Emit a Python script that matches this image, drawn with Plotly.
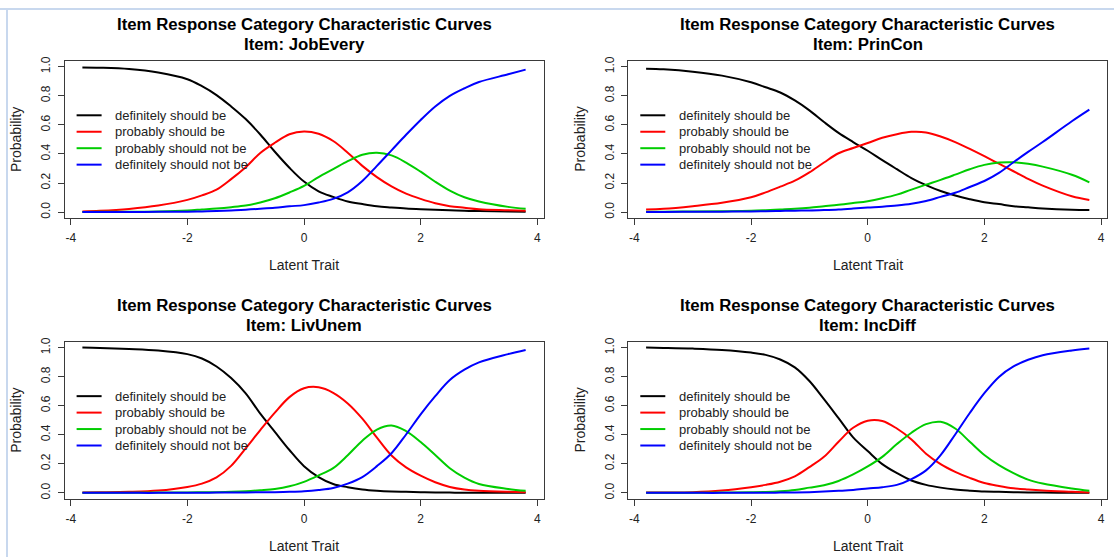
import plotly.graph_objects as go

# Latent trait grid at which the category probabilities are listed
theta = [-3.8, -3.5, -3.0, -2.5, -2.0, -1.75, -1.5, -1.25, -1.0, -0.75, -0.5, -0.25,
         0.0, 0.25, 0.5, 0.75, 1.0, 1.25, 1.5, 1.75, 2.0, 2.25, 2.5, 2.75, 3.0, 3.5, 3.8]

categories = ["definitely should be", "probably should be",
              "probably should not be", "definitely should not be"]
cat_colors = ["#000000", "#FF0000", "#00CD00", "#0000FF"]

items = ["JobEvery", "PrinCon", "LivUnem", "IncDiff"]

# JobEvery
job_def_be = [0.995, 0.993, 0.984, 0.960, 0.914, 0.866, 0.805, 0.727, 0.640, 0.534, 0.415, 0.305,
              0.210, 0.143, 0.105, 0.073, 0.055, 0.040, 0.032, 0.025, 0.020, 0.016, 0.013, 0.009,
              0.007, 0.005, 0.003]
job_prob_be = [0.005, 0.009, 0.022, 0.045, 0.084, 0.115, 0.155, 0.227, 0.309, 0.407, 0.477, 0.536,
               0.555, 0.539, 0.489, 0.409, 0.318, 0.241, 0.177, 0.127, 0.091, 0.061, 0.041, 0.030,
               0.020, 0.013, 0.009]
job_prob_not = [0.001, 0.002, 0.003, 0.005, 0.011, 0.018, 0.025, 0.034, 0.045, 0.066, 0.095, 0.135,
                0.180, 0.241, 0.295, 0.350, 0.395, 0.409, 0.390, 0.341, 0.278, 0.209, 0.148, 0.102,
                0.073, 0.036, 0.023]
job_def_not = [0.000, 0.000, 0.001, 0.002, 0.003, 0.005, 0.007, 0.011, 0.017, 0.023, 0.030, 0.040,
               0.048, 0.066, 0.091, 0.136, 0.214, 0.318, 0.425, 0.532, 0.634, 0.727, 0.800, 0.852,
               0.895, 0.948, 0.980]

# PrinCon
prin_def_be = [0.986, 0.982, 0.966, 0.939, 0.893, 0.859, 0.823, 0.768, 0.700, 0.620, 0.545, 0.482,
               0.422, 0.357, 0.295, 0.234, 0.186, 0.145, 0.114, 0.089, 0.068, 0.055, 0.041, 0.033,
               0.025, 0.016, 0.014]
prin_prob_be = [0.018, 0.023, 0.041, 0.064, 0.102, 0.136, 0.175, 0.216, 0.273, 0.341, 0.405, 0.441,
                0.475, 0.511, 0.536, 0.552, 0.548, 0.520, 0.482, 0.435, 0.385, 0.333, 0.281, 0.228,
                0.182, 0.109, 0.084]
prin_prob_not = [0.002, 0.003, 0.004, 0.006, 0.009, 0.013, 0.018, 0.023, 0.030, 0.040, 0.050, 0.062,
                 0.075, 0.095, 0.120, 0.155, 0.189, 0.222, 0.258, 0.295, 0.325, 0.341, 0.343, 0.332,
                 0.313, 0.257, 0.205]
prin_def_not = [0.000, 0.001, 0.002, 0.003, 0.005, 0.006, 0.008, 0.010, 0.011, 0.014, 0.018, 0.024,
                0.031, 0.037, 0.045, 0.057, 0.077, 0.105, 0.133, 0.173, 0.214, 0.270, 0.343, 0.414,
                0.482, 0.625, 0.705]

# LivUnem
liv_def_be = [1.000, 0.998, 0.991, 0.980, 0.955, 0.925, 0.870, 0.790, 0.685, 0.545, 0.420, 0.295,
              0.184, 0.109, 0.061, 0.039, 0.023, 0.014, 0.009, 0.007, 0.005, 0.003, 0.002, 0.001,
              0.001, 0.000, 0.000]
liv_prob_be = [0.003, 0.004, 0.007, 0.016, 0.041, 0.064, 0.107, 0.186, 0.307, 0.432, 0.552, 0.659,
               0.720, 0.727, 0.689, 0.616, 0.511, 0.380, 0.257, 0.175, 0.118, 0.073, 0.041, 0.023,
               0.014, 0.007, 0.005]
liv_prob_not = [0.000, 0.000, 0.001, 0.002, 0.003, 0.004, 0.005, 0.007, 0.011, 0.018, 0.027, 0.045,
                0.076, 0.120, 0.170, 0.259, 0.359, 0.436, 0.464, 0.425, 0.350, 0.261, 0.170, 0.105,
                0.061, 0.027, 0.014]
liv_def_not = [0.000, 0.000, 0.000, 0.000, 0.001, 0.001, 0.002, 0.002, 0.003, 0.004, 0.005, 0.007,
               0.011, 0.020, 0.034, 0.064, 0.109, 0.184, 0.273, 0.402, 0.541, 0.666, 0.777, 0.848,
               0.898, 0.955, 0.984]

# IncDiff
inc_def_be = [1.000, 0.998, 0.993, 0.984, 0.966, 0.950, 0.918, 0.864, 0.770, 0.645, 0.514, 0.382,
              0.288, 0.198, 0.136, 0.085, 0.055, 0.036, 0.023, 0.015, 0.009, 0.007, 0.005, 0.003,
              0.002, 0.001, 0.000]
inc_prob_be = [0.002, 0.003, 0.005, 0.016, 0.039, 0.055, 0.077, 0.114, 0.177, 0.248, 0.352, 0.448,
               0.497, 0.495, 0.443, 0.368, 0.270, 0.198, 0.145, 0.103, 0.068, 0.048, 0.032, 0.023,
               0.016, 0.007, 0.002]
inc_prob_not = [0.000, 0.000, 0.001, 0.002, 0.004, 0.006, 0.011, 0.020, 0.036, 0.052, 0.082, 0.127,
                0.182, 0.248, 0.336, 0.414, 0.473, 0.489, 0.443, 0.352, 0.261, 0.191, 0.136, 0.091,
                0.064, 0.030, 0.014]
inc_def_not = [0.000, 0.000, 0.000, 0.000, 0.001, 0.001, 0.002, 0.003, 0.005, 0.009, 0.014, 0.020,
               0.030, 0.039, 0.055, 0.095, 0.155, 0.260, 0.402, 0.550, 0.686, 0.798, 0.870, 0.916,
               0.948, 0.980, 0.993]

item_curves = [
    [job_def_be, job_prob_be, job_prob_not, job_def_not],
    [prin_def_be, prin_prob_be, prin_prob_not, prin_def_not],
    [liv_def_be, liv_prob_be, liv_prob_not, liv_def_not],
    [inc_def_be, inc_prob_be, inc_prob_not, inc_def_not],
]

x_ticks = [-4, -2, 0, 2, 4]
x_tick_text = ["-4", "-2", "0", "2", "4"]
y_ticks = [0.0, 0.2, 0.4, 0.6, 0.8, 1.0]
y_tick_text = ["0.0", "0.2", "0.4", "0.6", "0.8", "1.0"]

W, H = 1114, 558
FONT = "Liberation Sans, Arial, sans-serif"
AXIS_COLOR = "#3a3a3a"

# plot boxes in pixels: left, right, top, bottom
boxes = [(64.6, 543.6, 57.3, 216.0), (628.3, 1107.3, 57.3, 216.0),
         (64.6, 543.6, 340.7, 499.3), (628.3, 1107.3, 340.7, 499.3)]


def fx(px):
    return px / W


def fy(py):
    return 1 - py / H


fig = go.Figure()
shapes = []
annotations = []

for i, (curves, item, box) in enumerate(zip(item_curves, items, boxes)):
    n = "" if i == 0 else str(i + 1)
    L, R, T, B = box
    for values, name, color in zip(curves, categories, cat_colors):
        fig.add_trace(go.Scatter(
            x=theta, y=values, mode="lines", name=name,
            line=dict(color=color, width=2, shape="spline", smoothing=1.0),
            xaxis="x" + n, yaxis="y" + n, showlegend=False,
            hoverinfo="skip",
        ))

    common = dict(showgrid=False, zeroline=False, showline=True, mirror=True,
                  linecolor=AXIS_COLOR, linewidth=1, ticks="outside", ticklen=6,
                  tickwidth=1, tickcolor=AXIS_COLOR,
                  tickfont=dict(family=FONT, size=12, color="#222222"))
    fig.update_layout(**{
        "xaxis" + n: dict(domain=[fx(L), fx(R)], anchor="y" + n,
                          range=[-4.105, 4.108], tickvals=x_ticks,
                          ticktext=x_tick_text, ticklabelstandoff=3, **common),
        "yaxis" + n: dict(domain=[fy(B), fy(T)], anchor="x" + n,
                          range=[-0.041, 1.041], tickvals=y_ticks,
                          ticktext=y_tick_text, tickangle=-90,
                          ticklabelstandoff=3, **common),
    })

    cx = (L + R) / 2
    annotations.append(dict(
        text="<b>Item Response Category Characteristic Curves</b>",
        x=fx(cx), y=fy(T - 36.3), xref="paper", yref="paper",
        xanchor="center", yanchor="middle", showarrow=False,
        font=dict(family=FONT, size=16.8, color="#000000")))
    annotations.append(dict(
        text="<b>Item: " + item + "</b>",
        x=fx(cx), y=fy(T - 16.3), xref="paper", yref="paper",
        xanchor="center", yanchor="middle", showarrow=False,
        font=dict(family=FONT, size=16.8, color="#000000")))
    annotations.append(dict(
        text="Latent Trait", x=fx(cx), y=fy(B + 47.5), xref="paper", yref="paper",
        xanchor="center", yanchor="middle", showarrow=False,
        font=dict(family=FONT, size=14, color="#222222")))
    annotations.append(dict(
        text="Probability", x=fx(L - 48), y=fy((T + B) / 2), xref="paper",
        yref="paper", xanchor="center", yanchor="middle", showarrow=False,
        textangle=-90, font=dict(family=FONT, size=14, color="#222222")))

    # in-panel legend
    for k, (name, color) in enumerate(zip(categories, cat_colors)):
        ry = T + 55 + k * 16.6
        shapes.append(dict(type="line", xref="paper", yref="paper",
                           x0=fx(L + 12), x1=fx(L + 37), y0=fy(ry), y1=fy(ry),
                           line=dict(color=color, width=2)))
        annotations.append(dict(
            text=name, x=fx(L + 48.5), y=fy(ry), xref="paper", yref="paper",
            xanchor="left", yanchor="middle", showarrow=False,
            font=dict(family=FONT, size=13, color="#222222")))

# thin light-blue frame along the top and left edges
shapes.append(dict(type="line", xref="paper", yref="paper",
                   x0=fx(0), x1=fx(W), y0=fy(5), y1=fy(5),
                   line=dict(color="#C8D8EE", width=2)))
shapes.append(dict(type="line", xref="paper", yref="paper",
                   x0=fx(7), x1=fx(7), y0=fy(5), y1=fy(H),
                   line=dict(color="#C8D8EE", width=2)))

fig.update_layout(
    width=W, height=H, margin=dict(l=0, r=0, t=0, b=0),
    paper_bgcolor="white", plot_bgcolor="white",
    shapes=shapes, annotations=annotations, showlegend=False,
)

fig.write_html("out.html")
